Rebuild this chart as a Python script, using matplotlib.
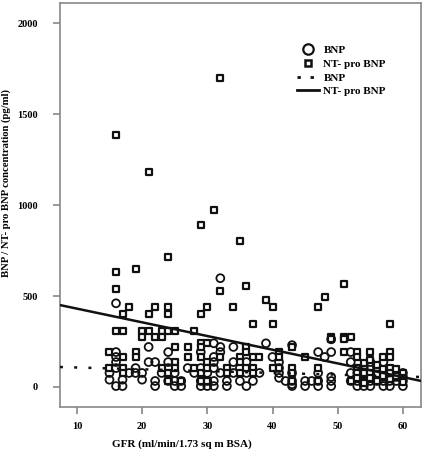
import numpy as np
from matplotlib import pyplot as plt
from matplotlib.lines import Line2D

plt.rcParams['font.family'] = ['Liberation Serif', 'DejaVu Serif']
plt.rcParams['font.weight'] = 'bold'

# NT-pro BNP (squares): GFR, concentration
ntp_gfr = [16, 32, 21, 29, 31, 35, 24, 16, 19, 16, 32, 36, 39, 48, 51,
           18, 22, 24, 30, 34, 40, 47,
           17, 21, 24, 29,
           37, 40, 58,
           16, 17, 20, 21, 23, 24, 25, 28,
           20, 22, 23, 49, 51, 52,
           49, 51,
           29, 30,
           25, 27, 29, 36, 43,
           15, 19, 36, 41, 51, 53, 55, 58,
           17, 19, 27, 29, 32, 35, 37, 38, 41, 45, 53, 57, 58,
           25, 30, 35,
           15, 17, 23, 25, 28, 30, 33, 36, 37, 40, 41, 43, 47, 53, 54, 56, 58,
           17, 24, 29, 33, 35, 37, 43, 53, 54, 55, 58, 60,
           24, 26, 29, 30, 43, 47, 52, 54, 56,
           54, 55, 56, 57, 59, 60, 53, 55, 57, 59, 60, 54, 56, 58]
ntp_val = [1385, 1698, 1181, 890, 972, 802, 715, 632, 648, 538, 527, 555, 478, 495, 566,
           440, 440, 440, 440, 440, 440, 440,
           400, 400, 400, 400,
           346, 346, 346,
           308, 308, 308, 308, 308, 308, 308, 308,
           275, 275, 275, 275, 275, 275,
           262, 262,
           240, 240,
           220, 220, 220, 220, 220,
           192, 192, 192, 192, 192, 192, 192, 192,
           165, 165, 165, 165, 165, 165, 165, 165, 165, 165, 165, 165, 165,
           137, 137, 137,
           104, 104, 104, 104, 104, 104, 104, 104, 104, 104, 104, 104, 104, 104, 104, 104, 104,
           77, 77, 77, 77, 77, 77, 77, 77, 77, 77, 77, 77,
           33, 33, 33, 33, 33, 33, 33, 33, 33,
           130, 150, 120, 60, 60, 50, 50, 50, 100, 100, 30, 20, 70, 45]

# BNP (circles): GFR, concentration
bnp_gfr = [32, 16, 39, 31, 49, 43, 21, 32, 34,
           16, 24, 29, 32, 47, 49, 52,
           16, 31, 40, 48,
           16, 21, 22, 24, 31, 34, 36, 41, 52, 55, 57,
           16, 19, 24, 27, 29, 31, 35, 41, 54, 56,
           15, 18, 19, 20, 23, 25, 28, 30, 32, 34, 36, 38, 41, 43, 47, 52, 53, 54, 56, 57, 58, 59, 60,
           15, 17, 20, 22, 24, 25, 26, 29, 30, 31, 33, 35, 37, 42, 43, 45, 46, 47, 49, 52, 53, 54, 55,
           56, 57, 58, 59, 60,
           16, 17, 22, 25, 26, 29, 30, 31, 33, 36, 43, 45, 47, 49, 53, 54, 55, 57, 58, 60,
           53, 55, 57, 59, 54, 56, 58, 60, 49, 43, 41]
bnp_val = [598, 460, 240, 240, 262, 230, 220, 220, 220,
           192, 192, 192, 192, 192, 192, 192,
           165, 165, 165, 165,
           137, 137, 137, 137, 137, 137, 137, 137, 137, 137, 137,
           104, 104, 104, 104, 104, 104, 104, 104, 110, 110,
           77, 77, 77, 77, 77, 77, 77, 77, 77, 77, 77, 77, 77, 77, 77, 77, 77, 77, 77, 77, 77, 77, 77,
           40, 40, 40, 33, 33, 33, 33, 33, 33, 33, 33, 33, 33, 33, 33, 33, 33, 33, 33, 33, 33, 33, 33,
           33, 33, 33, 33, 33,
           5, 5, 5, 5, 5, 5, 5, 5, 5, 5, 5, 5, 5, 5, 5, 5, 5, 5, 5, 5,
           55, 55, 55, 55, 55, 50, 100, 55, 55, 15, 50]

# linear fits (intercept, slope)
bnp_fit = (117, -0.99)
ntp_fit = (506, -7.53)

fig = plt.figure(figsize=(4.25, 4.5), dpi=100)
ax = fig.add_axes([0.141, 0.0956, 0.85, 0.8974])

ax.scatter(bnp_gfr, bnp_val, s=32, facecolors='none', edgecolors='#111111', linewidths=1.3, zorder=3)
ax.scatter(ntp_gfr, ntp_val, s=15, marker='s', facecolors='white', edgecolors='#111111', linewidths=1.6, zorder=3)

ax.axline((0, bnp_fit[0]), slope=bnp_fit[1], color='#111111', lw=1.8, linestyle=(0, (1.2, 4.5)), zorder=4)
ax.axline((0, ntp_fit[0]), slope=ntp_fit[1], color='#111111', lw=1.8, zorder=4)

ax.set_xlim(7.4, 62.8)
ax.set_ylim(-110, 2110)
ax.set_xticks([10, 20, 30, 40, 50, 60])
ax.set_yticks([0, 500, 1000, 1500, 2000])

for sp in ax.spines.values():
    sp.set_color('#888888')
    sp.set_linewidth(1.2)
ax.tick_params(direction='out', length=5, width=1.2, color='#888888', labelsize=7.5)
ax.tick_params(axis='y', pad=11)
ax.tick_params(axis='x', pad=6)
for lab in ax.get_xticklabels() + ax.get_yticklabels():
    lab.set_fontweight('bold')

ax.set_xlabel('GFR (ml/min/1.73 sq m BSA)', fontsize=8, fontweight='bold')
ax.xaxis.set_label_coords(0.338, -0.08)
ax.set_ylabel('BNP / NT- pro BNP concentration (pg/ml)', fontsize=7.7, fontweight='bold')
ax.yaxis.set_label_coords(-0.135, 0.555)

handles = [
    Line2D([], [], marker='o', ls='none', mfc='none', mec='#111111', mew=1.6, ms=7.5),
    Line2D([], [], marker='s', ls='none', mfc='white', mec='#111111', mew=1.8, ms=5),
    Line2D([], [], color='#111111', lw=2, ls=(0, (1.2, 3.5))),
    Line2D([], [], color='#111111', lw=2),
]
ax.legend(handles, ['BNP', 'NT- pro BNP', 'BNP', 'NT- pro BNP'], loc='upper right',
          bbox_to_anchor=(0.93, 0.92), frameon=False, prop={'size': 8, 'weight': 'bold'},
          handlelength=2.0, handletextpad=0.4, labelspacing=0.35)

fig.savefig('out.png', dpi=100)
